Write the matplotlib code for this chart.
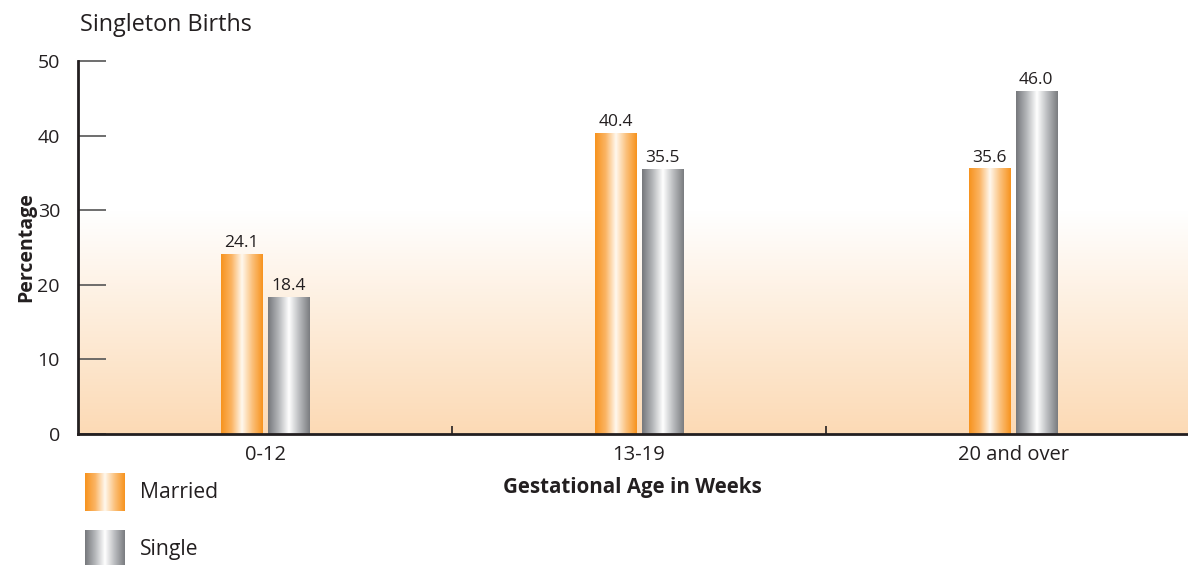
import numpy as np
import matplotlib
matplotlib.use("Agg")
import matplotlib.pyplot as plt
from matplotlib.colors import LinearSegmentedColormap

plt.rcParams['font.family'] = ['Open Sans', 'DejaVu Sans']

# data
categories = ['0-12', '13-19', '20 and over']
married = [24.1, 40.4, 35.6]
single = [18.4, 35.5, 46.0]
series_names = ['Married', 'Single']

text_col = '#231f20'
orange_cmap = LinearSegmentedColormap.from_list(
    'orange', ['#f7931e', '#fbb463', '#fff8ee', '#fbc07a', '#f7931e'])
gray_cmap = LinearSegmentedColormap.from_list(
    'gray', ['#76787c', '#b4b6b9', '#ffffff', '#b9bbbe', '#7a7c80'])
bg_cmap = LinearSegmentedColormap.from_list('bg', ['#fcdab5', '#ffffff'])

W, H = 1188, 565
fig = plt.figure(figsize=(W / 100, H / 100), dpi=100)
ax = fig.add_axes([78 / W, (H - 434) / H, (1200 - 78) / W, (434 - 61) / H])

# background gradient: peach at 0 fading to white at 30
yy = np.linspace(0, 50, 300)
grad = np.clip(yy / 30.0, 0, 1)[:, None]
ax.imshow(grad, cmap=bg_cmap, extent=[0, 1, 0, 1], transform=ax.transAxes,
          origin='lower', aspect='auto', zorder=0)

x = np.arange(len(categories))
width = 0.11
off = 0.062
bars_m = ax.bar(x - off, married, width, facecolor='none', edgecolor='none', zorder=2)
bars_s = ax.bar(x + off, single, width, facecolor='none', edgecolor='none', zorder=2)

hgrad = np.linspace(0, 1, 200)[None, :]
for bars, cmap in [(bars_m, orange_cmap), (bars_s, gray_cmap)]:
    for rect in bars:
        x0, w, h = rect.get_x(), rect.get_width(), rect.get_height()
        im = ax.imshow(hgrad, cmap=cmap, extent=[x0, x0 + w, 0, h],
                       aspect='auto', zorder=2)
        im.set_clip_path(rect)
        ax.annotate(f'{h:.1f}', (x0 + w / 2, h), xytext=(0, 2),
                    textcoords='offset points', ha='center', va='bottom',
                    fontsize=12.5, color=text_col)

ax.set_xlim(-0.5, 2.5)
ax.set_ylim(0, 50)

for s in ['top', 'right']:
    ax.spines[s].set_visible(False)
for s in ['left', 'bottom']:
    ax.spines[s].set_linewidth(2)
    ax.spines[s].set_color(text_col)

ax.set_yticks([0, 10, 20, 30, 40, 50])
ax.tick_params(axis='y', direction='in', length=20, width=1.2, color='#555555',
               pad=13, labelsize=14, labelcolor=text_col)
ax.set_xticks(x)
ax.set_xticklabels(categories)
ax.tick_params(axis='x', which='major', length=0, pad=8, labelsize=14.5,
               labelcolor=text_col)
ax.set_xticks([0.5, 1.5], minor=True)
ax.tick_params(axis='x', which='minor', direction='in', length=6, width=1.2,
               color=text_col)

ax.set_ylabel('Percentage', fontsize=14, fontweight='bold', color=text_col,
              labelpad=1)
fig.text(632 / W, 1 - 487 / H, 'Gestational Age in Weeks', ha='center',
         va='center', fontsize=14.8, fontweight='bold', color=text_col)
fig.text(80 / W, 1 - 25 / H, 'Singleton Births', ha='left', va='center',
         fontsize=16.8, color=text_col)

# legend swatches
for i, (name, cmap) in enumerate(zip(series_names, [orange_cmap, gray_cmap])):
    top = 473 + i * 57
    lax = fig.add_axes([85 / W, 1 - (top + 38) / H, 39 / W, 38 / H])
    lax.imshow(hgrad, cmap=cmap, aspect='auto')
    lax.axis('off')
    fig.text(140 / W, 1 - (top + 20) / H, name, ha='left', va='center',
             fontsize=15.2, color=text_col)

fig.savefig('out.png', dpi=100)
